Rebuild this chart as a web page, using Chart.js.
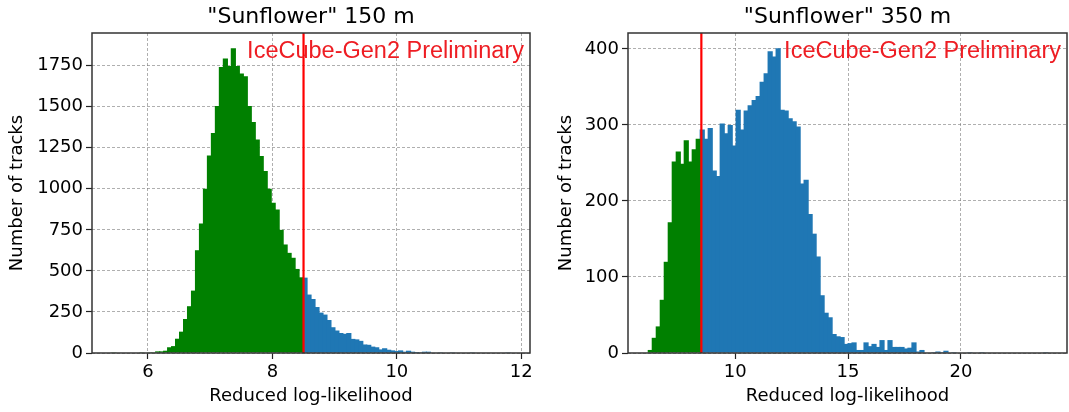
<!DOCTYPE html>
<html>
<head>
<meta charset="utf-8">
<script src="https://cdn.jsdelivr.net/npm/chart.js@4.4.1/dist/chart.umd.min.js"></script>
<style>
  html, body { margin: 0; padding: 0; background: #fff; }
  #wrap { position: relative; width: 1069px; height: 412px; }
  canvas { position: absolute; top: 0; }
</style>
</head>
<body>
<div id="wrap">
  <canvas id="left" width="540" height="412" style="left:0"></canvas>
  <canvas id="right" width="529" height="412" style="left:540px"></canvas>
</div>
<script>
// "Sunflower" 150 m histogram (100 bins)
const leftBinStart = 5.42;
const leftBinWidth = 0.064;
const leftGreen = [1, 0, 0, 0, 0, 0, 0, 1, 0, 1, 4, 10, 10, 14, 35, 42, 87, 130, 207, 285,
  380, 626, 789, 1000, 1203, 1340, 1504, 1742, 1793, 1748, 1856, 1748, 1702, 1685, 1504, 1407,
  1301, 1200, 1108, 1000, 915, 874, 750, 661, 610, 580, 512, 461];
const leftBlue = [459, 356, 329, 280, 246, 234, 201, 157, 137, 122, 117, 122, 86, 83, 74, 52,
  50, 39, 35, 22, 29, 20, 16, 12, 16, 8, 14, 8, 6, 4, 8, 8,
  2, 0, 1, 0, 0, 1, 0, 0, 0, 0, 1, 0, 0, 0, 0, 0, 0, 0, 0, 1];
const leftTicksX = [6, 8, 10, 12];
const leftTicksY = [0, 250, 500, 750, 1000, 1250, 1500, 1750];

// "Sunflower" 350 m histogram (100 bins)
const rightBinStart = 6.15;
const rightBinWidth = 0.177;
const rightGreen = [4, 20, 35, 70, 120, 172, 252, 265, 249, 280, 252, 268, 282];
const rightBlue = [294, 282, 296, 240, 233, 302, 289, 300, 273, 320, 294, 319, 326, 333, 338,
  357, 368, 397, 390, 401, 320, 319, 309, 305, 298, 223, 228, 183, 157, 127, 76, 53, 47, 25,
  22, 21, 12, 13, 14, 4, 4, 14, 9, 12, 8, 17, 4, 17, 8, 8, 8, 6, 7, 14, 2, 4, 0, 0, 1, 2, 1, 3,
  0, 1, 0, 0, 0, 1, 0, 0, 1, 0, 0, 0, 0, 0, 0, 0, 0, 0, 0, 0, 0, 0, 0, 0, 1];
const rightTicksX = [10, 15, 20];
const rightTicksY = [0, 100, 200, 300, 400];

const cutValue = 8.5;

const FONT = "'DejaVu Sans', sans-serif";

function binPoints(counts, start, width, offset) {
  return counts.map((c, i) => ({ x: start + (offset + i + 0.5) * width, y: c }));
}

// title, cut line, frame and the red label
function panelPlugin(title) {
  return {
    id: 'panel',
    afterDatasetsDraw(chart) {
      const { ctx, chartArea } = chart;
      const x = chart.scales.x.getPixelForValue(cutValue);
      ctx.save();
      ctx.strokeStyle = '#ff0000';
      ctx.lineWidth = 2.2;
      ctx.beginPath();
      ctx.moveTo(x, chartArea.top);
      ctx.lineTo(x, chartArea.bottom);
      ctx.stroke();
      ctx.restore();
    },
    afterDraw(chart) {
      const { ctx, chartArea } = chart;
      ctx.save();
      ctx.strokeStyle = '#333';
      ctx.lineWidth = 1.5;
      ctx.strokeRect(chartArea.left, chartArea.top, chartArea.right - chartArea.left, chartArea.bottom - chartArea.top);

      ctx.fillStyle = '#000';
      ctx.font = '22px ' + FONT;
      ctx.textAlign = 'center';
      ctx.textBaseline = 'middle';
      ctx.fillText(title, (chartArea.left + chartArea.right) / 2, 17);

      ctx.fillStyle = '#ee1d23';
      ctx.font = "23.5px 'Liberation Sans', Arial, sans-serif";
      ctx.textAlign = 'right';
      ctx.textBaseline = 'alphabetic';
      ctx.fillText('IceCube-Gen2 Preliminary', chartArea.right - 6, 58);
      ctx.restore();
    }
  };
}

function makeChart(id, o) {
  const green = binPoints(o.green, o.binStart, o.binWidth, 0);
  const blue = binPoints(o.blue, o.binStart, o.binWidth, o.green.length);
  // bars slightly wider than a bin so neighbouring bins leave no seams
  const bars = { grouped: false, barPercentage: 1.3, categoryPercentage: 1, borderWidth: 0 };
  const grid = { color: 'rgba(120,120,120,0.75)', lineWidth: 0.8, tickLength: 6, tickColor: '#222', tickWidth: 1.2, offset: false };
  const tickFont = { family: FONT, size: 18 };

  return new Chart(document.getElementById(id), {
    type: 'bar',
    data: {
      datasets: [
        Object.assign({ data: green, backgroundColor: '#008000' }, bars),
        Object.assign({ data: blue, backgroundColor: '#1f77b4' }, bars)
      ]
    },
    options: {
      responsive: false,
      animation: false,
      layout: { padding: { left: 0, right: o.padRight, top: 33, bottom: 0 } },
      plugins: { legend: { display: false }, tooltip: { enabled: false } },
      scales: {
        x: {
          type: 'linear',
          offset: false,
          min: o.xMin,
          max: o.xMax,
          afterBuildTicks: s => { s.ticks = o.ticksX.map(v => ({ value: v })); },
          afterFit: s => { s.height = 59; },
          grid: grid,
          border: { display: false, dash: [3, 2] },
          ticks: { color: '#000', font: tickFont, padding: 3, maxRotation: 0, autoSkip: false, callback: v => String(v) },
          title: { display: true, text: 'Reduced log-likelihood', color: '#000', font: tickFont, padding: { top: 0, bottom: 5 } }
        },
        y: {
          min: 0,
          max: o.yMax,
          afterBuildTicks: s => { s.ticks = o.ticksY.map(v => ({ value: v })); },
          afterFit: s => { s.width = o.yWidth; },
          grid: grid,
          border: { display: false, dash: [3, 2] },
          ticks: { color: '#000', font: tickFont, padding: 3, autoSkip: false, callback: v => String(v) },
          title: { display: true, text: 'Number of tracks', color: '#000', font: tickFont, padding: { top: o.yTitlePad, bottom: 0 } }
        }
      }
    },
    plugins: [panelPlugin(o.title)]
  });
}

makeChart('left', {
  title: '"Sunflower" 150 m',
  green: leftGreen, blue: leftBlue,
  binStart: leftBinStart, binWidth: leftBinWidth,
  xMin: 5.1, xMax: 12.14, yMax: 1949,
  ticksX: leftTicksX, ticksY: leftTicksY,
  yWidth: 92, padRight: 10, yTitlePad: 7
});

makeChart('right', {
  title: '"Sunflower" 350 m',
  green: rightGreen, blue: rightBlue,
  binStart: rightBinStart, binWidth: rightBinWidth,
  xMin: 5.25, xMax: 24.7, yMax: 421,
  ticksX: rightTicksX, ticksY: rightTicksY,
  yWidth: 88, padRight: 2, yTitlePad: 16
});
</script>
</body>
</html>
